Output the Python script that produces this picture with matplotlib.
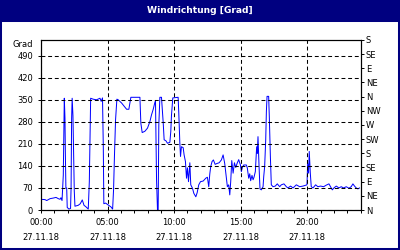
import matplotlib
matplotlib.use("Agg")

import matplotlib.pyplot as plt
from matplotlib.patches import Rectangle

# ---------- THEME ----------
NAVY = "#000080"
LINE = "#0000ff"
plt.rcParams["font.family"] = ["DejaVu Sans"]
plt.rcParams["lines.scale_dashes"] = False

# ---------- DATA ----------
title = "Windrichtung [Grad]"
unit_label = "Grad"

hours = [
    0.0, 0.30, 0.43, 0.68, 0.93, 1.13, 1.30, 1.43, 1.50, 1.58,
    1.675, 1.75, 1.80, 1.83, 1.87, 1.93, 1.97, 2.10, 2.22, 2.26, 2.30, 2.34, 2.40, 2.45, 2.50, 2.55,
    2.80, 2.95, 3.10, 3.23, 3.38, 3.55, 3.63, 3.73, 3.92, 4.17, 4.43, 4.52, 4.62, 4.68, 4.72,
    4.85, 5.05, 5.25, 5.38, 5.45, 5.52, 5.60, 5.70, 5.80, 6.05, 6.43, 6.60, 6.75, 7.43,
    7.50, 7.60, 7.80, 8.00, 8.18, 8.30, 8.43, 8.55, 8.60, 8.68, 8.75, 8.80, 8.85, 8.93, 9.05,
    9.18, 9.25, 9.38, 9.50, 9.68, 9.75, 9.80, 9.90,
    10.30, 10.35, 10.43, 10.48, 10.55, 10.68, 10.75, 10.85, 10.93, 11.00, 11.08, 11.18, 11.25,
    11.38, 11.48, 11.63, 11.73, 11.85, 11.98, 12.18, 12.38, 12.50,
    12.60, 12.68, 12.75, 12.85, 12.95, 13.08, 13.23, 13.38, 13.55, 13.68, 13.80, 13.93, 14.00,
    14.10, 14.18, 14.25, 14.33, 14.43, 14.53, 14.63, 14.73, 14.85,
    14.98, 15.05, 15.13, 15.23, 15.43, 15.50, 15.60, 15.68, 15.75, 15.85, 15.93, 16.00, 16.10,
    16.20, 16.25, 16.30, 16.38, 16.45, 16.55,
    16.68, 16.73, 16.80, 16.88, 16.93, 16.98, 17.10, 17.15, 17.23, 17.30, 17.43, 17.60, 17.75,
    17.93, 18.05, 18.25, 18.43, 18.55, 18.75, 18.93, 19.18, 19.43, 19.68,
    19.98, 20.03, 20.10, 20.15, 20.23, 20.30, 20.43, 20.63, 20.80, 21.00, 21.23, 21.43, 21.63,
    21.75, 21.88, 22.00, 22.18, 22.38, 22.55, 22.73, 22.93, 23.13, 23.30, 23.43, 23.55, 23.68,
    23.80, 23.93,
]

degrees = [
    34, 33, 30, 36, 38, 40, 36, 34, 39, 30,
    111, 355, 292, 180, 70, 70, 8, 3, 5, 70, 290, 355, 300, 180, 60, 12,
    15, 20, 32, 15, 10, 3, 90, 355, 352, 350, 355, 345, 356, 200, 20,
    22, 16, 10, 3, 64, 175, 286, 352, 350, 340, 320, 320, 358, 358,
    276, 246, 250, 260, 281, 302, 320, 341, 347, 95, 0, 0, 270, 358, 358,
    277, 223, 220, 212, 215, 250, 300, 356,
    358, 308, 212, 170, 201, 198, 175, 154, 101, 134, 90, 150, 80,
    69, 53, 42, 55, 80, 90, 92, 101, 104,
    74, 115, 138, 154, 159, 145, 148, 150, 159, 175, 148, 101, 74,
    80, 48, 90, 157, 117, 150, 135, 148, 160,
    143, 122, 136, 143, 143, 133, 101, 115, 93, 110, 96, 104, 122,
    201, 180, 233, 138, 67, 64,
    74, 106, 138, 223, 313, 361, 361, 297, 170, 80, 74, 76, 83,
    74, 80, 83, 74, 70, 76, 70, 80, 74, 76,
    80, 148, 117, 186, 117, 74, 70, 80, 74, 76, 74, 79, 83,
    74, 64, 70, 76, 70, 74, 70, 74, 69, 74, 83, 76, 70,
    67, 70,
]
assert len(hours) == len(degrees)

x_major = [0, 5, 10, 15, 20]
x_labels = ["00:00\n27.11.18", "05:00\n27.11.18", "10:00\n27.11.18",
            "15:00\n27.11.18", "20:00\n27.11.18"]
y_ticks = [0, 70, 140, 210, 280, 350, 420, 490]
compass_ticks = [0, 45, 90, 135, 180, 225, 270, 315, 360, 405, 450, 495, 540]
compass_labels = ["N", "NE", "E", "SE", "S", "SW", "W", "NW",
                  "N", "NE", "E", "SE", "S"]

# ---------- FIGURE ----------
W, H = 400, 250
fig = plt.figure(figsize=(W / 100, H / 100), dpi=100)
fig.patch.set_facecolor("white")

bar_h = 20 / H
fig.patches.append(Rectangle((0, 1 - bar_h), 1, bar_h, transform=fig.transFigure,
                             facecolor=NAVY, edgecolor="none", zorder=0))
fig.patches.append(Rectangle((0, 0), 1, 1 - bar_h, transform=fig.transFigure,
                             facecolor="none", edgecolor=NAVY, linewidth=2.9, zorder=1))
fig.text(0.5, 1 - 10.5 / H, title, color="white", fontsize=6.6, fontweight="bold",
         ha="center", va="center")

ax = fig.add_axes([41 / W, 1 - 210 / H, (360.5 - 41) / W, (210 - 40) / H])
ax.plot(hours, degrees, color=LINE, linewidth=0.72)

ax.set_xlim(0, 24)
ax.set_ylim(0, 540)
ax.set_xticks(x_major)
ax.set_xticklabels(x_labels, linespacing=1.9)
ax.set_xticks(range(0, 25), minor=True)
ax.set_yticks(y_ticks)

ax.tick_params(axis="both", which="both", direction="out", length=2.2, width=0.7,
               labelsize=6, color="black")
ax.tick_params(axis="x", pad=3.5)
ax.tick_params(axis="y", pad=3.5)

for s in ax.spines.values():
    s.set_linewidth(0.8)
    s.set_color("black")

ax.grid(True, which="major", color="black", linewidth=0.75, linestyle=(0, (2.8, 2.0)))
ax.set_axisbelow(False)

fig.text(33 / W, 1 - 45 / H, unit_label, fontsize=6, ha="right", va="center")

rax = ax.twinx()
rax.set_ylim(0, 540)
rax.set_yticks(compass_ticks)
rax.set_yticklabels(compass_labels)
rax.tick_params(axis="y", direction="out", length=2.2, width=0.7, labelsize=6, pad=1.5)
for s in rax.spines.values():
    s.set_linewidth(0.8)

fig.savefig("out.png", dpi=100, facecolor=fig.get_facecolor())
